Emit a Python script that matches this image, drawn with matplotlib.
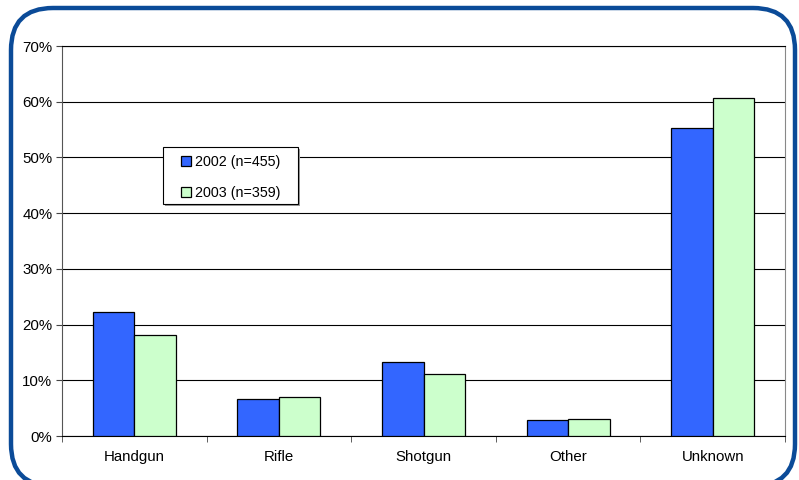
import matplotlib
matplotlib.use("Agg")
import matplotlib.pyplot as plt
import numpy as np
from matplotlib.patches import FancyBboxPatch, Rectangle
from matplotlib.ticker import PercentFormatter, FixedLocator

plt.rcParams['font.family'] = ['Liberation Sans', 'DejaVu Sans']

categories = ["Handgun", "Rifle", "Shotgun", "Other", "Unknown"]
share_2002 = [22.2, 6.6, 13.3, 2.9, 55.2]
share_2003 = [18.1, 7.0, 11.2, 3.1, 60.7]
labels = ["2002 (n=455)", "2003 (n=359)"]

W, H = 799, 480
fig = plt.figure(figsize=(W / 100, H / 100), dpi=100)

# rounded blue frame, drawn in pixel units on a background axes
bg = fig.add_axes([0, 0, 1, 1], zorder=0)
bg.set_xlim(0, W)
bg.set_ylim(H, 0)
bg.axis("off")
bg.add_patch(FancyBboxPatch((11, 8), 784, 478,
                            boxstyle="round,pad=0,rounding_size=42",
                            facecolor="white", edgecolor="#0b4b98", lw=3.2))

ax = fig.add_axes([62 / W, 1 - 436 / H, (785 - 62) / W, (436 - 46) / H], zorder=1)
ax.set_facecolor("white")

x = np.arange(len(categories))
w = 0.287
b1 = ax.bar(x - w / 2, share_2002, w, color="#3366ff", edgecolor="black", lw=0.9,
            zorder=3)
b2 = ax.bar(x + w / 2, share_2003, w, color="#ccffcc", edgecolor="black", lw=0.9,
            zorder=3)

ax.set_ylim(0, 70)
ax.set_xlim(-0.5, len(categories) - 0.5)
ax.set_yticks(np.arange(0, 71, 10))
ax.yaxis.set_major_formatter(PercentFormatter(decimals=0))
ax.yaxis.grid(True, color="black", lw=0.8, zorder=0)
ax.set_axisbelow(True)

ax.set_xticks(x)
ax.set_xticklabels(categories)
ax.xaxis.set_minor_locator(FixedLocator(np.arange(-0.5, len(categories), 1)))
ax.tick_params(axis="x", which="major", length=0, pad=10, labelsize=10.8)
ax.tick_params(axis="x", which="minor", length=4, direction="out", color="#444444")
ax.tick_params(axis="y", length=4, direction="out", labelsize=10.8, pad=3, color="#444444")

ax.spines["left"].set_color("#555555")
ax.spines["bottom"].set_color("black")
ax.spines["right"].set_color("#888888")
ax.spines["top"].set_color("black")
ax.spines["top"].set_linewidth(0.8)

# legend box with a drop shadow, on an overlay in pixel units
ov = fig.add_axes([0, 0, 1, 1], zorder=2)
ov.set_xlim(0, W)
ov.set_ylim(H, 0)
ov.axis("off")
ov.patch.set_alpha(0)
ov.add_patch(Rectangle((165, 149), 135, 57, facecolor="#9a9a9a", edgecolor="none"))
ov.add_patch(Rectangle((163, 147), 135, 57, facecolor="white", edgecolor="black", lw=0.8))
ov.legend([b1, b2], labels, loc="center left", bbox_to_anchor=(181, 177.5),
          bbox_transform=ov.transData, borderaxespad=0, borderpad=0,
          frameon=False, fontsize=10.3, handlelength=0.72, handleheight=0.72,
          handletextpad=0.25, labelspacing=1.2)

fig.savefig("out.png", dpi=100)
